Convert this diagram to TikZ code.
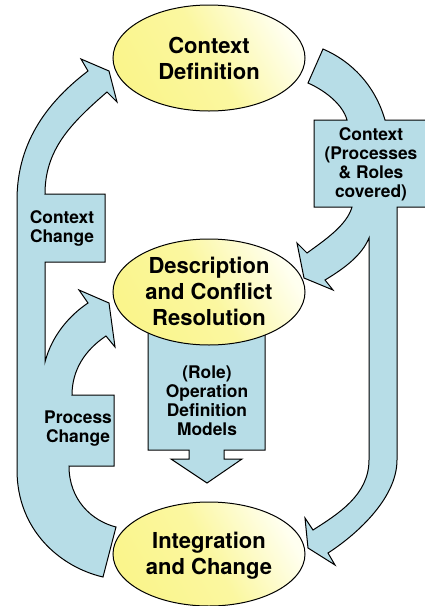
\documentclass[tikz,border=0pt]{standalone}
\usepackage{fontspec}
\setmainfont{TeX Gyre Heros}
\usetikzlibrary{shapes.geometric}
\definecolor{bandblue}{RGB}{183,221,231}
\definecolor{ellyel}{RGB}{250,245,140}
\definecolor{ellhi}{RGB}{255,255,240}
\begin{document}
\begin{tikzpicture}[x=1pt,y=-1pt,
  band/.style={draw=black, fill=bandblue, line width=1pt, line join=miter},
  ell/.style={ellipse, draw=black, line width=1pt, minimum width=192pt, minimum height=106pt, inner sep=0pt,
    left color=ellyel, right color=ellhi, middle color=ellyel!80!ellhi, shading angle=120},
  bigtxt/.style={font=\fontsize{22}{26}\selectfont\bfseries, align=center, inner sep=0pt},
  smalltxt/.style={font=\fontsize{17.4}{19}\selectfont\bfseries, align=center, inner sep=0pt}]
\useasboundingbox (0,0) rectangle (424,606);

% right band: Context Definition -> Description / Integration
\draw[band] (323,49) .. controls (351,61) and (375,85) .. (385,120)
  -- (428,120) -- (428,207) -- (397,207) -- (397,460)
  .. controls (397,500) and (353,537) .. (328,553)
  -- (335,565) -- (308,548) -- (305,518) -- (313,530)
  .. controls (338,514) and (369,495) .. (369,460)
  -- (369,238)
  .. controls (362,255) and (345,268) .. (325,280)
  -- (333,290) -- (304,278) -- (297,243) -- (307,253)
  .. controls (325,240) and (347,225) .. (352,207)
  -- (314,207) -- (314,120) -- (347,120)
  .. controls (343,105) and (326,91) .. (308,83) -- cycle;

% left band: Integration -> Description / Context Definition
\draw[band] (103,577) -- (116,527)
  .. controls (92,521) and (69,500) .. (69,466)
  -- (114,466) -- (114,395) -- (72,395)
  .. controls (72,370) and (85,350) .. (106,336)
  -- (115,347) -- (109,303) -- (79,290) -- (88,303)
  .. controls (70,315) and (52,335) .. (45,362)
  -- (45,262) -- (105,262) -- (105,194) -- (45,194)
  .. controls (45,150) and (70,124) .. (107,92)
  -- (117,102) -- (109,71) -- (81,59) -- (88,71)
  .. controls (50,100) and (17,140) .. (17,200)
  -- (17,470)
  .. controls (17,530) and (60,567) .. (103,577) -- cycle;

% middle down arrow
\draw[band] (148,300) -- (148,450) -- (189,450) -- (189,459) -- (171,459)
  -- (207,483) -- (242,459) -- (224,459) -- (224,450) -- (265,450)
  -- (265,300) -- cycle;

% ellipses
\node[ell] (cd) at (209,58) {};
\node[ell] (dcr) at (209,292) {};
\node[ell, minimum height=104pt] (ic) at (209,554) {};

\node[bigtxt] (cdt) at (209,58) {Context\\Definition};
\node[bigtxt] (dcrt) at (209,291) {Description\\and Conflict\\Resolution};
\node[bigtxt] (ict) at (209,556) {Integration\\and Change};

\node[smalltxt] (cct) at (62,228) {Context\\Change};
\node[smalltxt] (pct) at (78,429) {Process\\Change};
\node[smalltxt] (cxt) at (371,164) {Context\\(Processes\\\& Roles\\covered)};
\node[smalltxt] (rot) at (207,401) {(Role)\\Operation\\Definition\\Models};
\end{tikzpicture}
\end{document}
